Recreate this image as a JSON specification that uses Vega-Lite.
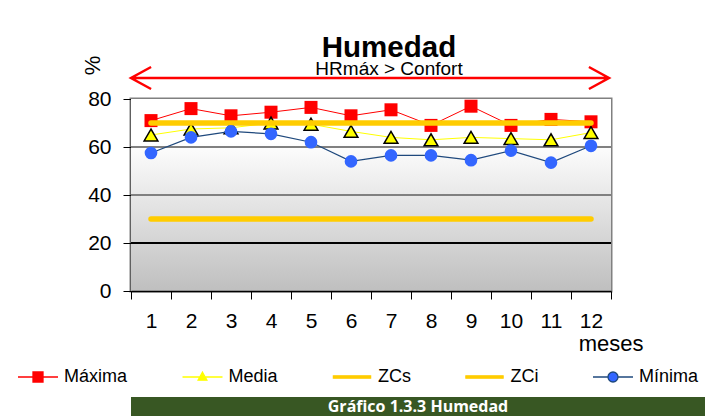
{
  "$schema": "https://vega.github.io/schema/vega-lite/v6.json",
  "background": "white",
  "padding": {"left": 7, "top": 31, "right": 0, "bottom": 0},
  "columns": 1,
  "align": "none",
  "spacing": 41,
  "config": {
    "font": "Liberation Sans",
    "view": {"stroke": null},
    "axis": {"labelFont": "Liberation Sans", "labelFontSize": 21, "labelColor": "black", "titleFont": "Liberation Sans", "titleFontWeight": "normal", "titleColor": "black", "domainColor": "black", "domainWidth": 1.5, "tickColor": "black", "tickWidth": 1, "tickSize": 8},
    "legend": {"labelFont": "Liberation Sans", "labelFontSize": 18, "labelColor": "black", "symbolOpacity": 1, "symbolStrokeWidth": 1.3, "symbolSize": 1600}
  },
  "concat": [
    {
      "width": 480,
      "height": 192,
      "view": {"stroke": "#808080", "strokeWidth": 3},
      "title": {"text": "Humedad", "subtitle": "HRmáx > Confort", "font": "Liberation Sans", "fontSize": 29.5, "fontWeight": "bold", "color": "black", "subtitleFont": "Liberation Sans Narrow, Liberation Sans", "subtitleFontSize": 19, "subtitleColor": "black", "subtitlePadding": -3, "anchor": "middle", "frame": "group", "dx": 18, "offset": -25},
      "data": {"values": [
        {"mes": 1, "max": 71, "med": 65, "min": 57.5, "zcs": 70, "zci": 30},
        {"mes": 2, "max": 76, "med": 67.5, "min": 64, "zcs": 70, "zci": 30},
        {"mes": 3, "max": 73, "med": 68, "min": 66.5, "zcs": 70, "zci": 30},
        {"mes": 4, "max": 74.5, "med": 70, "min": 65.5, "zcs": 70, "zci": 30},
        {"mes": 5, "max": 76.5, "med": 69.5, "min": 62, "zcs": 70, "zci": 30},
        {"mes": 6, "max": 73, "med": 66.5, "min": 54, "zcs": 70, "zci": 30},
        {"mes": 7, "max": 75.5, "med": 64, "min": 56.5, "zcs": 70, "zci": 30},
        {"mes": 8, "max": 69, "med": 63, "min": 56.5, "zcs": 70, "zci": 30},
        {"mes": 9, "max": 77, "med": 64, "min": 54.5, "zcs": 70, "zci": 30},
        {"mes": 10, "max": 69, "med": 63.5, "min": 58.5, "zcs": 70, "zci": 30},
        {"mes": 11, "max": 71.5, "med": 63, "min": 53.5, "zcs": 70, "zci": 30},
        {"mes": 12, "max": 70.5, "med": 66, "min": 60.5, "zcs": 70, "zci": 30}
      ]},
      "layer": [
        {
          "mark": {"type": "rect", "strokeWidth": 0, "color": {"gradient": "linear", "x1": 0, "y1": 0, "x2": 0, "y2": 1, "stops": [{"offset": 0, "color": "#ffffff"}, {"offset": 0.22, "color": "#ffffff"}, {"offset": 1, "color": "#bfbfbf"}]}},
          "encoding": {
            "x": {"field": "mes", "type": "ordinal", "title": "meses", "scale": {"type": "band", "paddingInner": 0, "paddingOuter": 0},
              "axis": {"title": "meses", "titleFontSize": 22, "titleAlign": "right", "titleBaseline": "middle", "titleX": 512, "titleY": 52, "labelAngle": 0, "labelPadding": 11, "tickBand": "extent", "grid": false}},
            "y": {"datum": 80, "type": "quantitative", "title": "%", "scale": {"domain": [0, 80], "nice": false},
              "axis": {"values": [0, 20, 40, 60, 80], "grid": false, "labelPadding": 12, "titleFontSize": 22, "titleAngle": 270, "titleAlign": "center", "titleBaseline": "middle", "titleX": -39, "titleY": -34}},
            "y2": {"datum": 0}
          }
        },
        {
          "mark": {"type": "rule", "color": "#808080", "strokeWidth": 1.5},
          "encoding": {"y": {"datum": 60, "type": "quantitative", "title": "%"}}
        },
        {
          "mark": {"type": "rule", "color": "#808080", "strokeWidth": 1.5},
          "encoding": {"y": {"datum": 40, "type": "quantitative", "title": "%"}}
        },
        {
          "mark": {"type": "rule", "color": "#000000", "strokeWidth": 1},
          "encoding": {"y": {"datum": 20, "type": "quantitative", "title": "%"}}
        },
        {
          "data": {"values": [{}]},
          "mark": {"type": "point", "shape": "M-1,0H1M-0.916,-0.046L-1,0L-0.916,0.046M0.916,-0.046L1,0L0.916,0.046", "filled": false, "stroke": "#ff0000", "strokeWidth": 2.5, "size": 228484, "opacity": 1, "xOffset": 19, "clip": false},
          "encoding": {"x": {"datum": 6, "type": "ordinal", "title": "meses"}, "y": {"datum": 88.75, "type": "quantitative", "title": "%"}}
        },
        {
          "mark": {"type": "line", "strokeWidth": 1},
          "encoding": {
            "x": {"field": "mes", "type": "ordinal", "title": "meses"},
            "y": {"field": "max", "type": "quantitative", "title": "%"},
            "color": {"datum": "Máxima", "type": "nominal",
              "scale": {"domain": ["Máxima", "Media", "ZCs", "ZCi", "Mínima"], "range": ["#ff0000", "#ffff00", "#ffcc00", "#ffcc00", "#1f497d"]},
              "legend": {"orient": "none", "legendX": -124, "legendY": 247, "direction": "horizontal", "title": null, "padding": 10, "gridAlign": "none", "columnPadding": 51.5, "symbolSize": 1600, "symbolOpacity": 1, "symbolStrokeWidth": 1.3, "labelFont": "Liberation Sans", "labelFontSize": 18, "labelColor": "black", "labelOffset": 5}}
          }
        },
        {
          "data": {"values": [{}]},
          "mark": {"type": "point", "filled": true, "opacity": 0},
          "encoding": {
            "x": {"datum": 1, "type": "ordinal", "title": "meses"},
            "y": {"datum": 50, "type": "quantitative", "title": "%"},
            "fill": {"datum": "Máxima", "type": "nominal",
              "scale": {"domain": ["Máxima", "Media", "ZCs", "ZCi", "Mínima"], "range": ["#ff0000", "#ffff00", "#ffcc00", "#ffcc00", "#3366ff"]},
              "legend": {"orient": "none", "legendX": -124, "legendY": 247, "direction": "horizontal", "title": null, "padding": 10, "gridAlign": "none", "columnPadding": 51.5, "symbolSize": 1600, "symbolOpacity": 1, "symbolStrokeWidth": 1.3, "labelFont": "Liberation Sans", "labelFontSize": 18, "labelColor": "black", "labelOffset": 5}},
            "shape": {"datum": "Máxima", "type": "nominal",
              "scale": {"domain": ["Máxima", "Media", "ZCs", "ZCi", "Mínima"], "range": [
                "M-1,0H1M-0.25,-0.25H0.25V0.25H-0.25Z",
                "M-1,0H-0.13M0.13,0H1M0,-0.24L0.22,0.16L-0.22,0.16Z",
                "M-0.93,-0.06H0.93V0.06H-0.93Z",
                "M-0.93,-0.06H0.93V0.06H-0.93Z",
                "M-1,0H-0.25M0.25,0H1M-0.25,0A0.25,0.25 0 1,1 0.25,0A0.25,0.25 0 1,1 -0.25,0Z"
              ]},
              "legend": {"orient": "none", "legendX": -124, "legendY": 247, "direction": "horizontal", "title": null, "padding": 10, "gridAlign": "none", "columnPadding": 51.5, "symbolSize": 1600, "symbolOpacity": 1, "symbolStrokeWidth": 1.3, "labelFont": "Liberation Sans", "labelFontSize": 18, "labelColor": "black", "labelOffset": 5}}
          }
        },
        {
          "mark": {"type": "point", "shape": "square", "filled": true, "color": "#ff0000", "size": 169, "opacity": 1},
          "encoding": {"x": {"field": "mes", "type": "ordinal", "title": "meses"}, "y": {"field": "max", "type": "quantitative", "title": "%"}}
        },
        {
          "mark": {"type": "line", "strokeWidth": 1},
          "encoding": {"x": {"field": "mes", "type": "ordinal", "title": "meses"}, "y": {"field": "med", "type": "quantitative", "title": "%"}, "color": {"datum": "Media", "type": "nominal"}}
        },
        {
          "mark": {"type": "point", "shape": "triangle-up", "filled": true, "fill": "#ffff00", "stroke": "#000000", "strokeWidth": 1.5, "size": 190, "opacity": 1},
          "encoding": {"x": {"field": "mes", "type": "ordinal", "title": "meses"}, "y": {"field": "med", "type": "quantitative", "title": "%"}}
        },
        {
          "mark": {"type": "line", "strokeWidth": 5.5, "strokeCap": "round"},
          "encoding": {"x": {"field": "mes", "type": "ordinal", "title": "meses"}, "y": {"field": "zcs", "type": "quantitative", "title": "%"}, "color": {"datum": "ZCs", "type": "nominal"}}
        },
        {
          "mark": {"type": "line", "strokeWidth": 5.5, "strokeCap": "round"},
          "encoding": {"x": {"field": "mes", "type": "ordinal", "title": "meses"}, "y": {"field": "zci", "type": "quantitative", "title": "%"}, "color": {"datum": "ZCi", "type": "nominal"}}
        },
        {
          "mark": {"type": "line", "strokeWidth": 1.2},
          "encoding": {"x": {"field": "mes", "type": "ordinal", "title": "meses"}, "y": {"field": "min", "type": "quantitative", "title": "%"}, "color": {"datum": "Mínima", "type": "nominal"}}
        },
        {
          "mark": {"type": "point", "shape": "circle", "filled": true, "color": "#3366ff", "size": 160, "opacity": 1},
          "encoding": {"x": {"field": "mes", "type": "ordinal", "title": "meses"}, "y": {"field": "min", "type": "quantitative", "title": "%"}}
        }
      ]
    },
    {
      "width": 574,
      "height": 19,
      "view": {"fill": "#385723", "stroke": null},
      "data": {"values": [{"t": "Gráfico 1.3.3 Humedad"}]},
      "mark": {"type": "text", "color": "#ffffff", "font": "Open Sans", "fontWeight": "bold", "fontSize": 16, "align": "center", "baseline": "middle"},
      "encoding": {"text": {"field": "t", "type": "nominal"}}
    }
  ]
}
